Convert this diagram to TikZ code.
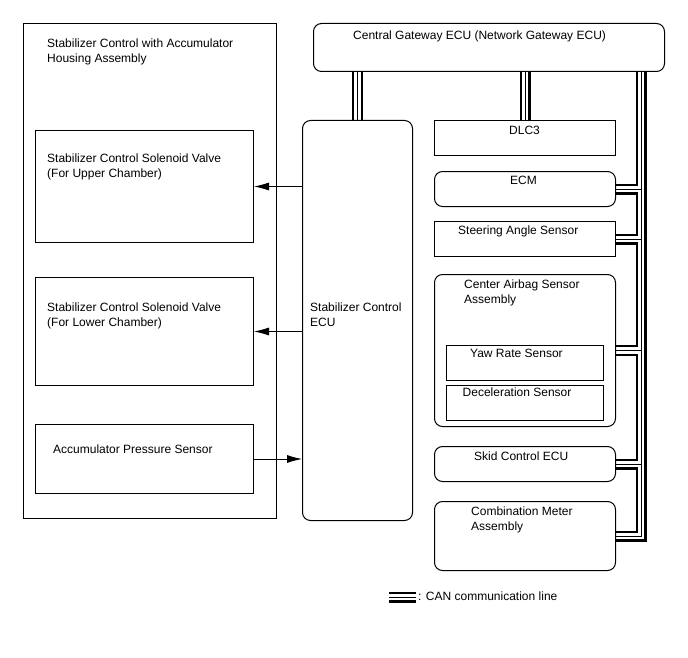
\documentclass[tikz,border=0pt]{standalone}
\usepackage{fontspec}
\setmainfont{Liberation Sans}
\usetikzlibrary{arrows.meta,backgrounds}
\tikzset{
  box/.style={draw,line width=1pt,inner sep=0pt,anchor=north west},
  rbox/.style={box,rounded corners=8pt},
  txt/.style={inner sep=0pt,align=left,anchor=north west},
  sig/.style={->,line width=0.8pt}
}
\begin{document}
\begin{tikzpicture}[x=1pt,y=-1pt,>={Latex[length=15pt,width=8pt]},font=\fontsize{12}{15}\selectfont]
  \useasboundingbox (0,0) rectangle (688,658);
  % left assembly
  \node[box,minimum width=253pt,minimum height=495pt] (hsg) at (23,23) {};
  \node[box,minimum width=218pt,minimum height=112pt] (upv) at (35,130) {};
  \node[box,minimum width=218pt,minimum height=108pt] (lov) at (35,277) {};
  \node[box,minimum width=218pt,minimum height=69pt] (acc) at (35,424) {};
  \node[txt] (hsgT) at (47,38.5) {Stabilizer Control with Accumulator\\Housing Assembly};
  \node[txt] (upvT) at (47,153.5) {Stabilizer Control Solenoid Valve\\(For Upper Chamber)};
  \node[txt] (lovT) at (47,302.5) {Stabilizer Control Solenoid Valve\\(For Lower Chamber)};
  \node[txt] (accT) at (53,444.5) {Accumulator Pressure Sensor};
  % stabilizer ECU and gateway
  \node[rbox,minimum width=110pt,minimum height=400pt] (ecu) at (302,120) {};
  \node[txt] (ecuT) at (310,302.5) {Stabilizer Control\\ECU};
  \node[rbox,minimum width=351pt,minimum height=48pt] (gw) at (313,23) {};
  \node[txt] (gwT) at (353,31) {Central Gateway ECU (Network Gateway ECU)};
  % right column
  \node[box,minimum width=181pt,minimum height=35pt] (dlc) at (434,120) {};
  \node[rbox,minimum width=181pt,minimum height=35pt] (ecm) at (434,171) {};
  \node[box,minimum width=181pt,minimum height=35pt] (sas) at (434,221) {};
  \node[rbox,minimum width=181pt,minimum height=152pt] (air) at (434,274) {};
  \node[box,minimum width=157pt,minimum height=35pt] (yaw) at (446,345) {};
  \node[box,minimum width=157pt,minimum height=35pt] (dec) at (446,385) {};
  \node[rbox,minimum width=181pt,minimum height=35pt] (skid) at (434,446) {};
  \node[rbox,minimum width=181pt,minimum height=69pt] (cmb) at (434,501) {};
  \node[inner sep=0pt] (dlcT) at (524.5,130) {DLC3};
  \node[inner sep=0pt] (ecmT) at (523.5,180) {ECM};
  \node[txt] (sasT) at (458,225.5) {Steering Angle Sensor};
  \node[txt] (airT) at (464,279.5) {Center Airbag Sensor\\Assembly};
  \node[txt] (yawT) at (470,349) {Yaw Rate Sensor};
  \node[txt] (decT) at (462.5,388) {Deceleration Sensor};
  \node[txt] (skidT) at (474,451.5) {Skid Control ECU};
  \node[txt] (cmbT) at (471,507) {Combination Meter\\Assembly};
  % legend
  \coordinate (lgA) at (389,597);
  \coordinate (lgB) at (416,597);
  \node[inner sep=0pt,anchor=west] (legT) at (418,596) {: CAN communication line};
  % signal lines
  \draw[sig] (ecu.west |- upv.east) -- (upv.east);
  \draw[sig] (ecu.west |- lov.east) -- (lov.east);
  \draw[sig] (acc.east) -- (acc.east -| ecu.west);
  % CAN lines
  \coordinate (bus) at (641,0);
  \begin{scope}[on background layer]
    \foreach \w/\c in {11pt/black,6.5pt/white,1pt/black}
      \draw[line width=\w,\c] (gw.south -| ecu.north) -- (ecu.north)
        (gw.south -| dlc.north) -- (dlc.north)
        (gw.south -| bus) -- (bus |- cmb.east) -- (cmb.east)
        (ecm.east) -- (ecm.east -| bus)
        (sas.east) -- (sas.east -| bus)
        (air.east) -- (air.east -| bus)
        (skid.east) -- (skid.east -| bus)
        (lgA) -- (lgB);
  \end{scope}
\end{tikzpicture}
\end{document}
